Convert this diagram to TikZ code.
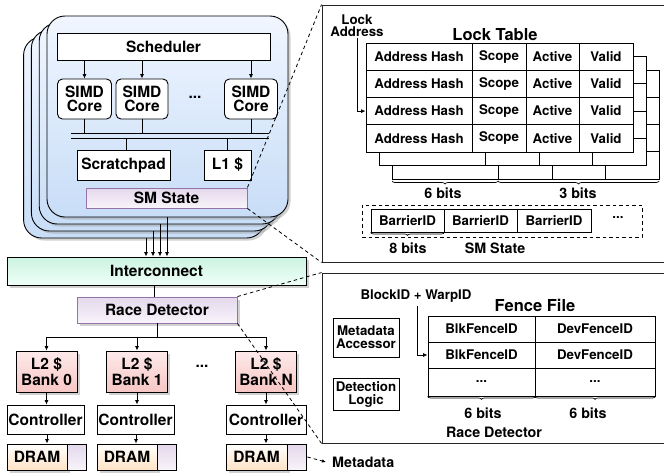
\documentclass[tikz,border=0pt]{standalone}
\usepackage{fontspec}
\setmainfont{TeX Gyre Heros}
\usetikzlibrary{shadows,decorations.pathreplacing,arrows.meta}
\newcommand{\fmain}{\bfseries\fontsize{15.5}{16.5}\selectfont}
\newcommand{\ftab}{\bfseries\fontsize{13.3}{14}\selectfont}
\newcommand{\ftitle}{\bfseries\fontsize{16.5}{17}\selectfont}
\newcommand{\flab}{\bfseries\fontsize{14.3}{15}\selectfont}
\definecolor{smtop}{HTML}{F0F6FF}
\definecolor{smbot}{HTML}{C8DDF7}
\definecolor{ictop}{HTML}{CCF3E2}
\definecolor{icbot}{HTML}{EEFFF7}
\definecolor{purpb}{HTML}{9673A6}
\definecolor{putop}{HTML}{E4D8EC}
\definecolor{pubot}{HTML}{F8F4FA}
\definecolor{pktop}{HTML}{FDEAEA}
\definecolor{pkbot}{HTML}{F7C6C4}
\definecolor{ortop}{HTML}{FFFFFF}
\definecolor{orbot}{HTML}{FFE3C6}
\definecolor{shd}{HTML}{9A9A9A}
\tikzset{
  box/.style={draw=black, line width=0.9pt, fill=white, inner sep=0pt, align=center, font=\fmain},
  rbox/.style={box, rounded corners=5pt},
  shad/.style={drop shadow={shadow xshift=2.5pt, shadow yshift=-2.5pt, fill=shd, opacity=0.45}},
  smlayer/.style={draw=black, line width=0.9pt, rounded corners=18pt, top color=smtop, bottom color=smbot, shad},
  icbox/.style={box, top color=ictop, bottom color=icbot, shad},
  rdbox/.style={box, draw=purpb, top color=putop, bottom color=pubot, shad},
  l2box/.style={box, top color=pktop, bottom color=pkbot, shad},
  drbox/.style={box, top color=ortop, bottom color=orbot, shad},
  mdbox/.style={box, top color=putop, bottom color=pubot},
  cell/.style={draw=black, line width=0.9pt, fill=white, inner sep=0pt, font=\ftab},
  panel/.style={draw=black!85, line width=0.9pt, fill=white, inner sep=0pt},
  arr/.style={line width=0.8pt, -{Latex[length=4.5pt,width=4pt]}},
  plain/.style={line width=0.8pt},
  dsh/.style={line width=0.8pt, dash pattern=on 3.5pt off 3pt},
  brc/.style={line width=0.7pt, decorate, decoration={brace, mirror, amplitude=3pt}},
}
\begin{document}
\begin{tikzpicture}[x=1pt,y=-1pt]
\useasboundingbox (0,0) rectangle (664,474);
% ---------------- SM stack ----------------
\foreach \i in {3,2,1} {
  \draw[smlayer] ({47-7.8*\i},{16+7*\i}) rectangle ({288-7.8*\i},{217+7*\i});
  \coordinate (smb\i) at ({167-7*\i},{217+7*\i});
}
\draw[smlayer] (47,16) rectangle (288,217);
\coordinate (smb0) at (167,217);
\node[box, minimum width=213, minimum height=27] (sched) at (163.5,46.5) {Scheduler};
\node[rbox, minimum width=54, minimum height=40] (core1) at (84.5,99) {SIMD\\[-2pt]Core};
\node[rbox, minimum width=52, minimum height=40] (core2) at (142,99) {SIMD\\[-2pt]Core};
\node[rbox, minimum width=53, minimum height=40] (core3) at (251,99) {SIMD\\[-2pt]Core};
\node[font=\fmain] (cdots) at (195,97) {...};
\foreach \c in {core1,core2,core3} \draw[arr] (sched.south -| \c) -- (\c.north);
\coordinate (busl) at (71,133);
\coordinate (busr) at (269,133);
\draw[plain] (busl) -- (busr);
\draw[plain] ([yshift=-5pt]busl) -- ([yshift=-5pt]busr);
\foreach \c in {core1,core2,core3} \draw[plain] (\c.south) -- (\c.south |- busl);
\node[box, minimum width=93, minimum height=30] (scratch) at (123.5,165) {Scratchpad};
\node[box, minimum width=47, minimum height=30] (l1) at (227.5,165) {L1 \$};
\draw[plain] (126,138) -- (126,150);
\draw[plain] (l1.north) -- (l1.north |- 0,138);
\node[box, draw=purpb, top color=putop, bottom color=pubot, minimum width=161, minimum height=20] (smstate) at (166.5,198) {SM State};
% ---------------- memory side ----------------
\node[icbox, minimum width=299, minimum height=28] (ic) at (156.5,271) {Interconnect};
\foreach \i in {0,1,2,3} \draw[arr] (smb\i) -- (smb\i |- ic.north);
\node[rdbox, minimum width=160, minimum height=26] (rd) at (157,310) {Race Detector};
\draw[plain] (ic.south -| 154,0) -- (rd.north -| 154,0);
\coordinate (split) at (157,337);
\node[l2box, minimum width=61, minimum height=41] (l2a) at (46.5,371.5) {L2 \$\\[-1pt]Bank 0};
\node[l2box, minimum width=61, minimum height=41] (l2b) at (137,371.5) {L2 \$\\[-1pt]Bank 1};
\node[l2box, minimum width=61, minimum height=41] (l2c) at (266,371.5) {L2 \$\\[-1pt]Bank N};
\node[font=\fmain] (ldots) at (202,366) {...};
\draw[plain] (rd.south -| split) -- (split);
\draw[plain] (split -| l2a) -- (split -| l2c);
\foreach \c in {l2a,l2b,l2c} \draw[arr] (split -| \c) -- (\c.north);
\node[box, minimum width=77, minimum height=29] (ca) at (45.5,419.5) {Controller};
\node[box, minimum width=77, minimum height=29] (cb) at (135.5,419.5) {Controller};
\node[box, minimum width=80, minimum height=29] (cc) at (266,419.5) {Controller};
\draw[arr] (l2a.south) -- (l2a.south |- ca.north);
\draw[arr] (l2b.south) -- (l2b.south |- cb.north);
\draw[arr] (l2c.south) -- (l2c.south |- cc.north);
\node[drbox, minimum width=60, minimum height=26] (da) at (37,457) {DRAM};
\node[mdbox, minimum width=19, minimum height=26, anchor=west] (dam) at (da.east) {};
\node[drbox, minimum width=60, minimum height=26] (db) at (127,457) {DRAM};
\node[mdbox, minimum width=19, minimum height=26, anchor=west] (dbm) at (db.east) {};
\node[drbox, minimum width=61, minimum height=26] (dc) at (256.5,457) {DRAM};
\node[mdbox, minimum width=19, minimum height=26, anchor=west] (dcm) at (dc.east) {};
\draw[arr] (ca.south -| 47,0) -- (da.north -| 47,0);
\draw[arr] (cb.south -| 136,0) -- (db.north -| 136,0);
\draw[arr] (cc.south) -- (cc.south |- dc.north);
\node[font=\flab, anchor=west, inner sep=0pt] (meta) at (332,462) {Metadata};
\draw[dsh, -{Latex[length=4pt,width=3.5pt]}] (dcm.east) -- (meta.west -| 326,0);
% ---------------- Lock table panel ----------------
\node[panel, minimum width=346, minimum height=257] (lp) at (495,133.5) {};
\draw[dsh] (smstate.north east) -- (lp.north west);
\draw[dsh] (smstate.south east) -- (lp.south west);
\foreach \L in {2,1} {
  \begin{scope}[shift={({13*\L},{13.5*\L})}]
    \draw[line width=0.9pt, fill=white] (366,43) rectangle (633,152);
    \foreach \yy in {70.25,97.5,124.75} \draw[line width=0.9pt] (366,\yy) -- (633,\yy);
    \foreach \xx in {472,526,579} \draw[line width=0.9pt] (\xx,43) -- (\xx,152);
  \end{scope}
}
\foreach \r/\yc in {1/56.6,2/83.9,3/111.1,4/138.4} {
  \node[cell, minimum width=106, minimum height=27.25] (ah\r) at (419,\yc) {Address Hash};
  \node[cell, minimum width=54, minimum height=27.25] (sc\r) at (499,\yc) {Scope};
  \node[cell, minimum width=53, minimum height=27.25] (ac\r) at (552.5,\yc) {Active};
  \node[cell, minimum width=54, minimum height=27.25] (va\r) at (606,\yc) {Valid};
}
\node[font=\ftitle] (lttitle) at (495,35) {Lock Table};
\node[font=\ftab, align=center, inner sep=1pt] (lockaddr) at (357,25.5) {Lock\\[-2pt]Address};
\draw[arr] (lockaddr.south) |- (ah3.west);
\draw[brc] (392,181) -- (498,181);
\draw[brc] (498,181) -- (659,181);
\node[font=\flab] (b6a) at (443,193) {6 bits};
\node[font=\flab] (b3) at (578,193) {3 bits};
\node[draw=black, dsh, minimum width=280, minimum height=32, inner sep=0pt] (smbox) at (502,221) {};
\node[cell, minimum width=73, minimum height=23] (bar1) at (407.5,220.5) {BarrierID};
\node[cell, minimum width=73, minimum height=23] (bar2) at (480.5,220.5) {BarrierID};
\node[cell, minimum width=74, minimum height=23] (bar3) at (554,220.5) {BarrierID};
\node[font=\ftab] (bdots) at (618,218) {...};
\draw[brc] (bar1.south west) -- (bar1.south east);
\node[font=\flab] (b8) at (408,248) {8 bits};
\node[font=\flab] (smlbl) at (495,248) {SM State};
% ---------------- Fence file panel ----------------
\node[panel, minimum width=346, minimum height=170] (fp) at (495,358) {};
\draw[dsh] (rd.north east) -- (fp.north west);
\draw[dsh] (rd.south east) -- (fp.south west);
\node[font=\ftab] (blk) at (416,296) {BlockID + WarpID};
\node[font=\ftitle] (fftitle) at (535,305) {Fence File};
\node[box, font=\ftab, minimum width=66, minimum height=39] (macc) at (366,337.5) {Metadata\\[-1pt]Accessor};
\node[box, font=\ftab, minimum width=66, minimum height=32] (dlog) at (366,394) {Detection\\[-1pt]Logic};
\node[cell, minimum width=107, minimum height=26] (f11) at (481.5,329) {BlkFenceID};
\node[cell, minimum width=120, minimum height=26] (f12) at (595,329) {DevFenceID};
\node[cell, minimum width=107, minimum height=26] (f21) at (481.5,355) {BlkFenceID};
\node[cell, minimum width=120, minimum height=26] (f22) at (595,355) {DevFenceID};
\node[cell, minimum width=107, minimum height=28] (f31) at (481.5,382) {...};
\node[cell, minimum width=120, minimum height=28] (f32) at (595,382) {...};
\draw[arr] (blk.south -| 417,0) |- (f21.west);
\draw[brc] (f31.south west) -- (f31.south east);
\draw[brc] (f32.south west) -- (f32.south east);
\node[font=\flab] (b6b) at (483,413) {6 bits};
\node[font=\flab] (b6c) at (588,413) {6 bits};
\node[font=\flab] (rdlbl) at (494,432) {Race Detector};
\end{tikzpicture}
\end{document}
